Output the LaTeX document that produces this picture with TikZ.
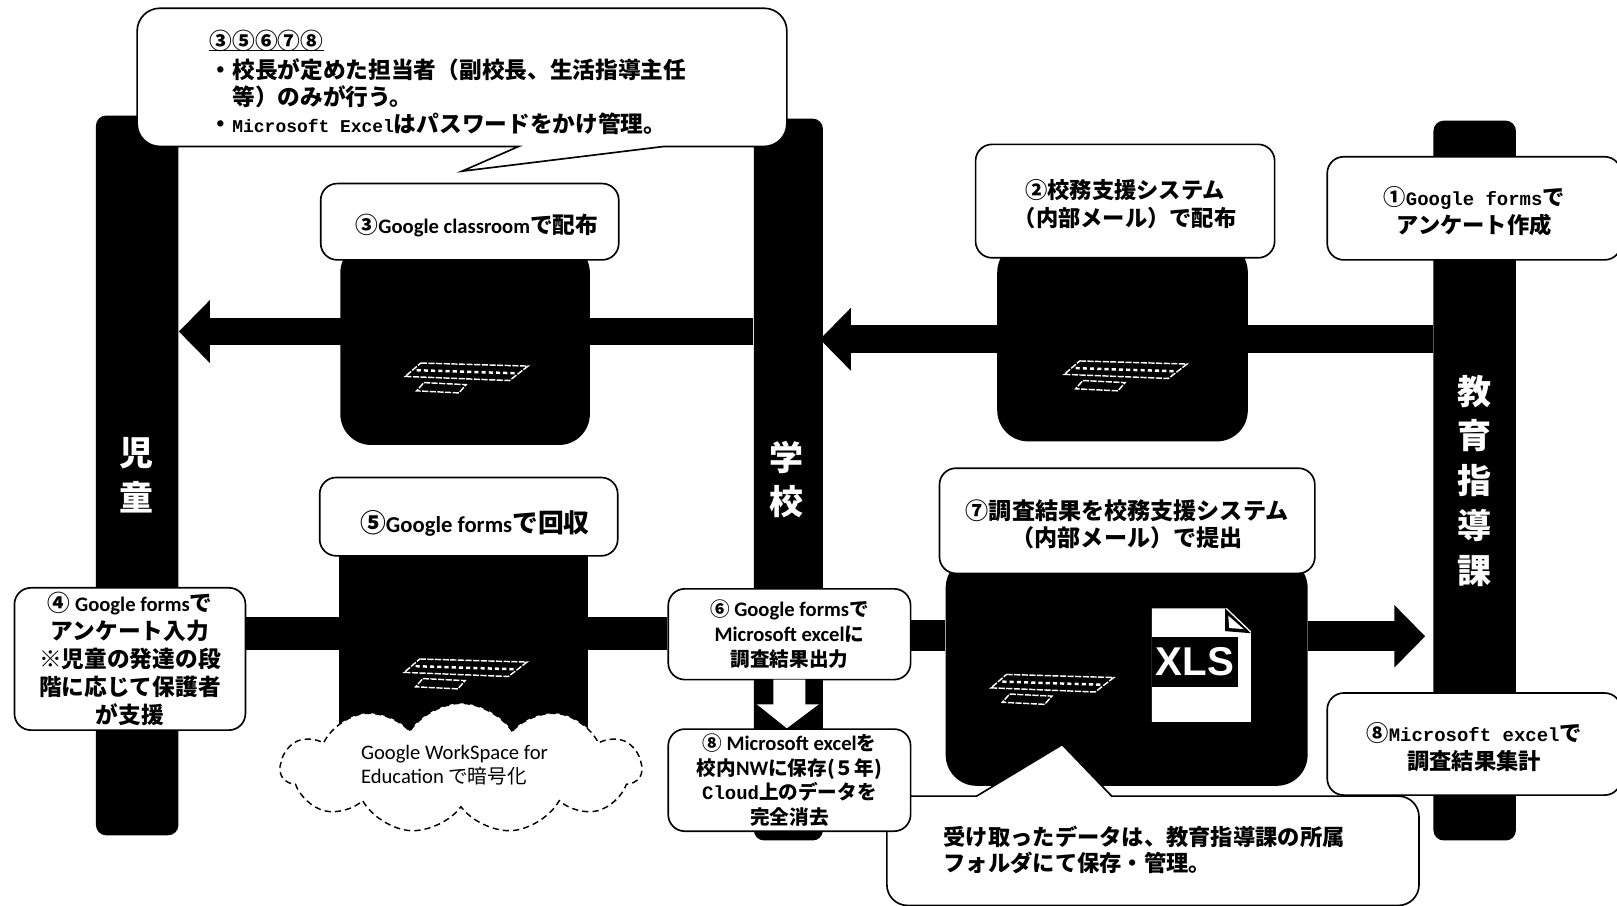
\documentclass[tikz,border=0pt]{standalone}
\usepackage{fontspec}
\setmainfont{Noto Sans CJK JP}
\newfontfamily\calfont{Carlito}
\newfontfamily\gmfont{Liberation Mono}
\newfontfamily\heavyfont{Liberation Sans}
\usetikzlibrary{arrows.meta,shapes.symbols}
\newcommand{\lat}[1]{{\calfont\fontsize{10}{10}\selectfont #1}}
\newcommand{\mon}[1]{{\gmfont\fontsize{9.2}{10}\selectfont #1}}
\newcommand{\tall}[1]{\rule{0pt}{#1pt}}
\tikzset{
 x=0.5pt,y=-0.5pt,
 barnode/.style={fill=black,rounded corners=5pt,minimum width=#1*0.5pt,inner sep=0pt},
 lapnode/.style={fill=black,rounded corners=15pt,inner sep=0pt},
 infobox/.style={draw=black,fill=white,line width=0.8pt,rounded corners=8pt,inner sep=0pt,align=center,font=\bfseries\fontsize{10.8}{13.5}\selectfont},
 tightbox/.style={infobox,font=\bfseries\fontsize{9.5}{12}\selectfont},
 vtext/.style={text=white,align=center,font=\bfseries\fontsize{16.5}{21.7}\selectfont},
 thickline/.style={line width=14pt,black},
 thickarrow/.style={line width=13.5pt,black,-{Triangle[length=15pt,width=29.5pt]}},
 keyb/.pic={
  \draw[white,line width=0.7pt,dash pattern=on 3pt off 0.7pt] (15,0) -- (119,3) -- (101,17) -- (0,13) -- cycle;
  \draw[white,line width=1.2pt,dash pattern=on 2pt off 1.5pt] (11,7) -- (108,10);
  \draw[white,line width=0.7pt,dash pattern=on 3pt off 0.7pt] (18,19) -- (59,21) -- (52,29) -- (11,27) -- cycle;
 }
}
\begin{document}
\begin{tikzpicture}
\useasboundingbox (0,0) rectangle (1568,878.5);
\fill[white] (0,0) rectangle (1568,878.5);
% vertical bars
\node[barnode=80,minimum height=349pt] (kids) at (133,461) {};
\node[barnode=67,minimum height=350pt] (school) at (764.5,465) {};
\node[barnode=80,minimum height=349pt] (office) at (1430,466) {};
\node[vtext] (kidslabel) at (132,461) {児\\童};
\node[vtext] (schoollabel) at (763,465) {学\\校};
\node[vtext] (officelabel) at (1430,466) {教\\育\\指\\導\\課};
% anchors of connector heights
\coordinate (yA) at (0,321.5);
\coordinate (yB) at (0,329);
\coordinate (yC) at (0,614);
\coordinate (yE) at (0,616);
\coordinate (yD) at (0,617);
\coordinate (arrowtipB) at (795,329);
\coordinate (arrowtipD) at (1382,617);
% connectors
\draw[thickarrow] (school.west |- yA) -- (kids.east |- yA);
\draw[thickarrow] (office.west |- yB) -- (arrowtipB);
% laptops
\node[lapnode,minimum width=121pt,minimum height=98.5pt] (lapA) at (451,333) {};
\node[lapnode,minimum width=121.5pt,minimum height=97pt] (lapB) at (1088.5,331) {};
\node[fill=black,inner sep=0pt,minimum width=120.5pt,minimum height=95pt] (lapC) at (449.5,615) {};
\node[lapnode,minimum width=175.5pt,minimum height=111pt] (lapD) at (1092.5,651) {};
\path (393,352) pic {keyb};
\path (1032,350) pic {keyb};
\path (392,639) pic {keyb};
\path (961,654) pic {keyb};
% xls icon
\fill[white] (1117,590) -- (1190,590) -- (1213,612) -- (1213,700) -- (1117,700) -- cycle;
\fill[black] (1188,590) -- (1188,612) -- (1213,614) -- cycle;
\fill[white] (1191,597) -- (1192,609) -- (1206,610) -- cycle;
\node[fill=black,inner sep=0pt,minimum width=41.5pt,minimum height=24pt,text=white,font=\heavyfont\bfseries\fontsize{19.5}{20}\selectfont] (xls) at (1158.5,642) {XLS};
% bottom callout
\draw[fill=white,line width=0.8pt,rounded corners=10pt] (1078,772) -- (1376,772) -- (1376,878) -- (860,878) -- (860,772) -- (900,772) [sharp corners] -- (947,772) -- (1030,722) -- cycle;
\node[anchor=west,align=left,font=\bfseries\fontsize{10.8}{13}\selectfont] (note) at (908,824) {受け取ったデータは、教育指導課の所属\\フォルダにて保存・管理。};
% horizontal bars
\node[infobox,font=\bfseries\fontsize{11}{13.5}\selectfont,minimum width=112pt,minimum height=69pt] (stepfour) at (126,639) {④ \lat{Google forms}で\\アンケート入力\\※児童の発達の段\\階に応じて保護者\\が支援};
\node[tightbox,minimum width=117.5pt,minimum height=44pt] (stepsix) at (765.5,615) {⑥ \lat{Google forms}で\\\lat{Microsoft excel}に\\調査結果出力};
\draw[thickline,line width=16pt] (stepfour.east |- yC) -- (stepsix.west |- yC);
\draw[thickline,line width=15pt] (stepsix.east |- yE) -- (lapD.west |- yE);
\draw[thickarrow,line width=14.5pt] (lapD.east |- yD) -- (arrowtipD);
% down block arrow
\fill[white] (750,659) -- (781,659) -- (781,683) -- (795,683) -- (763,707) -- (733,683) -- (750,683) -- cycle;
\draw[line width=0.5pt] (733,683) -- (763,707) -- (795,683);
% boxes
\node[infobox,minimum width=144.5pt,minimum height=37pt] (stepthree) at (455.5,215) {\tall{13}\hspace*{7pt}\fontsize{11}{13}\selectfont ③\lat{Google classroom}で配布};
\node[infobox,minimum width=145pt,minimum height=55pt] (steptwo) at (1091,195) {\tall{12}②校務支援システム\\（内部メール）で配布};
\node[infobox,minimum width=142.5pt,minimum height=50pt] (stepone) at (1429.5,202) {\tall{12}①\mon{Google forms}で\\アンケート作成};
\node[infobox,minimum width=144.5pt,minimum height=38pt] (stepfive) at (454.5,501) {\tall{17}\hspace*{6pt}\fontsize{12.5}{13}\selectfont ⑤{\calfont\fontsize{11}{11}\selectfont Google forms}で回収};
\node[infobox,font=\bfseries\fontsize{11.2}{13.5}\selectfont,minimum width=182pt,minimum height=51pt] (stepseven) at (1093,505) {\tall{13}⑦調査結果を校務支援システム\\（内部メール）で提出};
\node[tightbox,minimum width=117.5pt,minimum height=49.5pt] (stepeight) at (765.5,756.5) {⑧ \lat{Microsoft excel}を\\校内\lat{NW}に保存(５年)\\\mon{Cloud}上のデータを\\完全消去};
\node[infobox,minimum width=142.5pt,minimum height=49.5pt] (stepsum) at (1429.5,721.5) {\tall{12}⑧\mon{Microsoft excel}で\\調査結果集計};
% cloud
\node[cloud,cloud puffs=11,cloud puff arc=115,aspect=2.8,draw=black,densely dashed,fill=white,line width=0.7pt,inner sep=0pt,minimum width=175pt,minimum height=63pt] (cloudnote) at (447,745) {};
\node[anchor=west,align=left,font=\fontsize{9.5}{11.5}\selectfont] (cloudtext) at (343,742) {\lat{Google WorkSpace for}\\\lat{Education} で暗号化};
% top balloon
\draw[fill=white,line width=0.8pt,rounded corners=11pt] (450,8) -- (763,8) -- (763,142) -- (700,142) [sharp corners] -- (644,142) -- (448,166) -- (503,142) -- (470,142) [rounded corners=11pt] -- (133,142) -- (133,8) -- cycle;
\node[anchor=north west,align=left,inner sep=0pt,font=\bfseries\fontsize{11}{13}\selectfont] (rules) at (203,29) {③⑤⑥⑦⑧\\[1pt]・校長が定めた担当者（副校長、生活指導主任\\\hspace*{11pt}等）のみが行う。\\・{\gmfont\fontsize{8.7}{10}\selectfont Microsoft Excel}はパスワードをかけ管理。};
\draw[line width=0.7pt] (rules.north west) ++(0,20) -- ++(111,0);
\end{tikzpicture}
\end{document}
